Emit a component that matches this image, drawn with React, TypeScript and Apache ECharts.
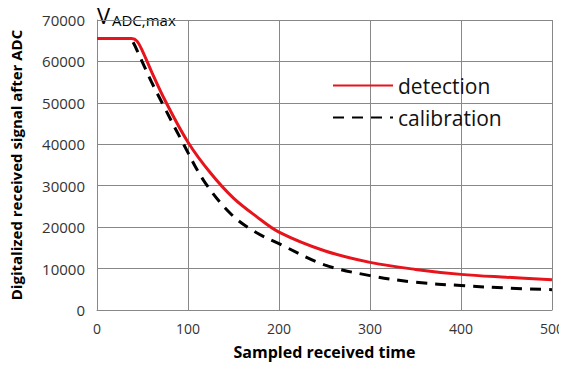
import React, { useEffect, useRef } from "react";
import * as echarts from "echarts";

const detX = [0, 38, 44, 50, 60, 75, 100, 125, 150, 175, 200, 250, 300, 350, 400, 450, 500];
const detY = [65535, 65535, 64900, 62500, 57500, 50500, 40500, 33000, 27000, 22600, 18800, 14300, 11500, 9800, 8600, 7900, 7300];
const calX = [0, 36, 40, 48, 60, 72, 94, 118, 148, 175, 200, 250, 300, 350, 400, 450, 500];
const calY = [65535, 65535, 64500, 60700, 55000, 49800, 40500, 31000, 23000, 18700, 16000, 10900, 8300, 6700, 5900, 5300, 4900];
const xTicks = [0, 100, 200, 300, 400, 500];
const yTicks = [0, 10000, 20000, 30000, 40000, 50000, 60000, 70000];

export default function App() {
  const ref = useRef<HTMLDivElement>(null);
  useEffect(() => {
    const chart = echarts.init(ref.current!, null, { renderer: "svg" });
    const font = "'Open Sans', 'Noto Sans', sans-serif";
    chart.setOption({
      animation: false,
      textStyle: { fontFamily: font },
      grid: { left: 95, right: 10, top: 20, bottom: 56 },
      xAxis: {
        type: "value",
        min: xTicks[0],
        max: xTicks[xTicks.length - 1],
        interval: 100,
        name: "Sampled received time",
        nameLocation: "middle",
        nameGap: 34,
        nameTextStyle: { fontSize: 16, fontWeight: "bold", color: "#000", fontFamily: font },
        axisLine: { lineStyle: { color: "#888", width: 1 } },
        axisTick: { show: false },
        axisLabel: { fontSize: 14, color: "#333", margin: 11, formatter: (v: number) => String(v) },
        splitLine: { lineStyle: { color: "#888", width: 1 } },
      },
      yAxis: {
        type: "value",
        min: yTicks[0],
        max: yTicks[yTicks.length - 1],
        interval: 10000,
        name: "Digitalized received signal after ADC",
        nameLocation: "middle",
        nameGap: 74,
        nameTextStyle: { fontSize: 15, fontWeight: "bold", color: "#000", fontFamily: font },
        axisLine: { show: true, lineStyle: { color: "#888", width: 1 } },
        axisTick: { show: false },
        axisLabel: { fontSize: 15, color: "#333", margin: 12, formatter: (v: number) => String(v) },
        splitLine: { lineStyle: { color: "#888", width: 1 } },
      },
      legend: {
        orient: "vertical",
        left: 327,
        top: 70,
        itemWidth: 60,
        itemHeight: 14,
        itemGap: 11,
        itemStyle: { opacity: 0 },
        textStyle: { fontSize: 21, color: "#111", fontFamily: font },
        data: ["detection", "calibration"],
      },
      series: [
        {
          name: "calibration",
          type: "line",
          data: calX.map((x, i) => [x, calY[i]]),
          smooth: 0.35,
          symbol: "none",
          lineStyle: { color: "#000", width: 3, type: [11, 8] },
          itemStyle: { color: "#000" },
          z: 2,
        },
        {
          name: "detection",
          type: "line",
          data: detX.map((x, i) => [x, detY[i]]),
          smooth: 0.35,
          symbol: "none",
          lineStyle: { color: "#e8141c", width: 3 },
          itemStyle: { color: "#e8141c" },
          z: 3,
        },
      ],
      graphic: [
        { type: "text", left: 97, top: 4, style: { text: "V", fontSize: 22, fill: "#000", fontFamily: font } },
        { type: "text", left: 112, top: 12, style: { text: "ADC,max", fontSize: 15, fill: "#000", fontFamily: font } },
      ],
    });
    return () => chart.dispose();
  }, []);
  return <div ref={ref} style={{ width: 567, height: 366, marginLeft: -8, marginTop: -8 }} />;
}
